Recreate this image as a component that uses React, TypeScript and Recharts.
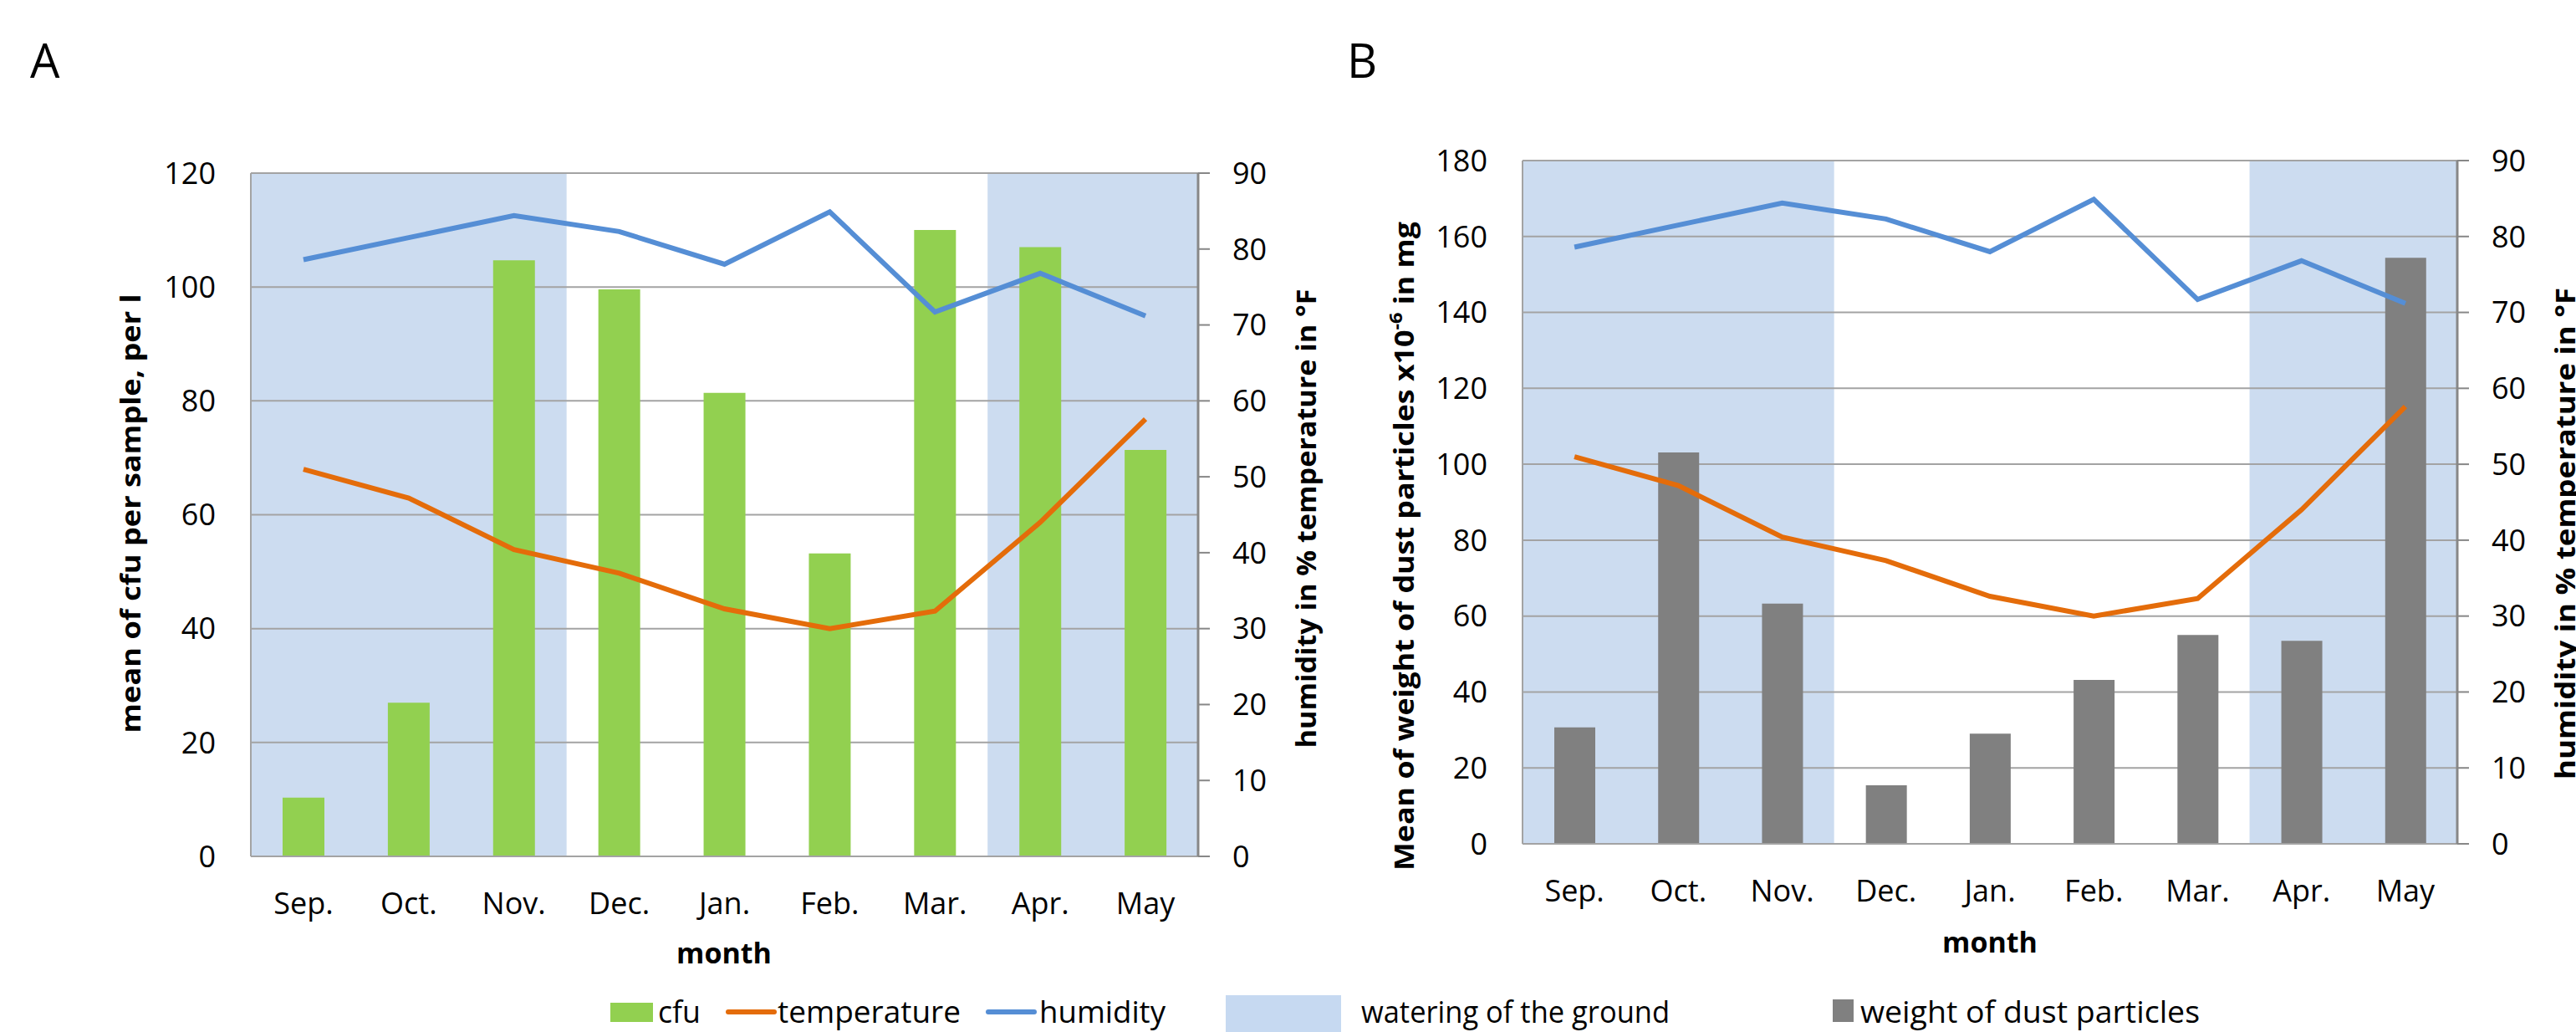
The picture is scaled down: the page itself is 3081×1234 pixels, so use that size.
import React from 'react';
import { ComposedChart, Bar, Line, XAxis, YAxis, CartesianGrid, ReferenceArea } from 'recharts';

// ---------- data ----------
const months = ['Sep.', 'Oct.', 'Nov.', 'Dec.', 'Jan.', 'Feb.', 'Mar.', 'Apr.', 'May'];
const cfu = [10.3, 27, 104.7, 99.6, 81.4, 53.2, 110, 107, 71.4];
const dustWeight = [30.7, 103.1, 63.3, 15.4, 29, 43.2, 55, 53.5, 154.4];
const temperature = [51, 47.2, 40.4, 37.3, 32.6, 30, 32.3, 44, 57.6];
const humidity = [78.6, 81.5, 84.4, 82.3, 78, 84.9, 71.7, 76.8, 71.2];

const ticksCfu = [0, 20, 40, 60, 80, 100, 120];
const ticksDust = [0, 20, 40, 60, 80, 100, 120, 140, 160, 180];
const ticksRight = [0, 10, 20, 30, 40, 50, 60, 70, 80, 90];

const wateringPeriods: [string, string][] = [['Sep.', 'Nov.'], ['Apr.', 'May']];

const titleA = 'A';
const titleB = 'B';
const xTitle = 'month';
const yTitleA = 'mean of cfu per  sample, per l';
const yTitleBMain = 'Mean of weight of dust particles x10';
const yTitleBSup = '-6';
const yTitleBEnd = ' in mg';
const yTitleRight = 'humidity in % temperature in °F';
const legendLabels = ['cfu', 'temperature', 'humidity', 'watering of the ground', 'weight of dust particles'];

// ---------- styles ----------
const FONT = "'Open Sans', sans-serif";
const GREEN = '#92D050';
const ORANGE = '#E46C0A';
const BLUE = '#558ED5';
const GRAY_BAR = '#808080';
const SHADE = '#CCDCF0';
const GRID = '#A3A3A3';
const AXIS_DARK = '#878787';

const dataA = months.map((m, i) => ({ month: m, value: cfu[i], temperature: temperature[i], humidity: humidity[i] }));
const dataB = months.map((m, i) => ({ month: m, value: dustWeight[i], temperature: temperature[i], humidity: humidity[i] }));

type PanelProps = {
  data: any[];
  width: number;
  height: number;
  margin: { top: number; right: number; bottom: number; left: number };
  leftMax: number;
  leftTicks: number[];
  barColor: string;
  barSize: number;
};

const tickStyle = { fontFamily: FONT, fontSize: 36, fill: '#000' };

function Panel({ data, width, height, margin, leftMax, leftTicks, barColor, barSize }: PanelProps) {
  return (
    <ComposedChart width={width} height={height} data={data} margin={margin}>
      {wateringPeriods.map(([a, b], i) => (
        <ReferenceArea
          key={i}
          x1={a}
          x2={b}
          yAxisId="left"
          fill={SHADE}
          fillOpacity={1}
          stroke="none"
          ifOverflow="visible"
          zIndex={-200}
        />
      ))}
      <CartesianGrid yAxisId="left" vertical={false} stroke={GRID} strokeWidth={2} />
      <XAxis
        dataKey="month"
        interval={0}
        tickLine={false}
        tickSize={0}
        tickMargin={43}
        height={60}
        axisLine={{ stroke: GRID, strokeWidth: 2 }}
        tick={tickStyle}
      />
      <YAxis
        yAxisId="left"
        orientation="left"
        domain={[0, leftMax]}
        ticks={leftTicks}
        interval={0}
        width={100}
        tickLine={false}
        tickSize={0}
        tickMargin={42}
        axisLine={{ stroke: GRID, strokeWidth: 2 }}
        tick={tickStyle}
      />
      <YAxis
        yAxisId="right"
        orientation="right"
        domain={[0, 90]}
        ticks={ticksRight}
        interval={0}
        width={100}
        tickSize={14}
        tickMargin={27}
        tickLine={{ stroke: AXIS_DARK, strokeWidth: 2 }}
        axisLine={{ stroke: AXIS_DARK, strokeWidth: 3 }}
        tick={tickStyle}
      />
      <Bar yAxisId="left" dataKey="value" fill={barColor} barSize={barSize} isAnimationActive={false} />
      <Line yAxisId="right" type="linear" dataKey="temperature" stroke={ORANGE} strokeWidth={6} dot={false} isAnimationActive={false} />
      <Line yAxisId="right" type="linear" dataKey="humidity" stroke={BLUE} strokeWidth={6} dot={false} isAnimationActive={false} />
    </ComposedChart>
  );
}

function Overlay() {
  const t = { fontFamily: FONT, fill: '#000' } as const;
  return (
    <svg width={3081} height={1234} style={{ position: 'absolute', left: 0, top: 0, pointerEvents: 'none' }}>
      <text x={36} y={93} fontSize={56} {...t}>{titleA}</text>
      <text x={1611} y={93} fontSize={56} {...t}>{titleB}</text>

      {/* month titles */}
      <text x={866} y={1152} fontSize={34} fontWeight="bold" textAnchor="middle" {...t}>{xTitle}</text>
      <text x={2380} y={1139} fontSize={34} fontWeight="bold" textAnchor="middle" {...t}>{xTitle}</text>

      {/* y titles */}
      <text transform="translate(168,614) rotate(-90)" fontSize={32} fontWeight="bold" textAnchor="middle"
        textLength={525} lengthAdjust="spacingAndGlyphs" {...t}>{yTitleA}</text>
      <text transform="translate(1574,620) rotate(-90)" fontSize={32} fontWeight="bold" textAnchor="middle"
        textLength={549} lengthAdjust="spacingAndGlyphs" {...t}>{yTitleRight}</text>
      <text transform="translate(1691,653) rotate(-90)" fontSize={32} fontWeight="bold" textAnchor="middle"
        textLength={776} lengthAdjust="spacingAndGlyphs" {...t}>
        {yTitleBMain}
        <tspan baselineShift="super" fontSize={21}>{yTitleBSup}</tspan>
        {yTitleBEnd}
      </text>
      <text transform="translate(3080,638) rotate(-90)" fontSize={32} fontWeight="bold" textAnchor="middle"
        textLength={588} lengthAdjust="spacingAndGlyphs" {...t}>{yTitleRight}</text>

      {/* legend */}
      <rect x={730} y={1199} width={51} height={23} fill={GREEN} />
      <text x={787} y={1223} fontSize={36} textLength={51} lengthAdjust="spacingAndGlyphs" {...t}>{legendLabels[0]}</text>
      <line x1={871} x2={926} y1={1210} y2={1210} stroke={ORANGE} strokeWidth={6} strokeLinecap="round" />
      <text x={930} y={1223} fontSize={36} textLength={219} lengthAdjust="spacingAndGlyphs" {...t}>{legendLabels[1]}</text>
      <line x1={1182} x2={1237} y1={1210} y2={1210} stroke={BLUE} strokeWidth={6} strokeLinecap="round" />
      <text x={1243} y={1223} fontSize={36} textLength={151} lengthAdjust="spacingAndGlyphs" {...t}>{legendLabels[2]}</text>
      <rect x={1466} y={1190} width={138} height={44} fill="#C6D9F1" />
      <text x={1628} y={1223} fontSize={36} textLength={369} lengthAdjust="spacingAndGlyphs" {...t}>{legendLabels[3]}</text>
      <rect x={2192} y={1195} width={25} height={27} fill={GRAY_BAR} />
      <text x={2225} y={1223} fontSize={36} textLength={406} lengthAdjust="spacingAndGlyphs" {...t}>{legendLabels[4]}</text>
    </svg>
  );
}

export default function App() {
  return (
    <div style={{ position: 'absolute', left: 0, top: 0, width: 3081, height: 1234, overflow: 'hidden', background: '#fff' }}>
      <div style={{ position: 'absolute', left: 0, top: 0 }}>
        <Panel
          data={dataA}
          width={1540}
          height={1234}
          margin={{ top: 207, right: 7, bottom: 150, left: 200 }}
          leftMax={120}
          leftTicks={ticksCfu}
          barColor={GREEN}
          barSize={50}
        />
      </div>
      <div style={{ position: 'absolute', left: 1540, top: 0 }}>
        <Panel
          data={dataB}
          width={1541}
          height={1234}
          margin={{ top: 192, right: 42, bottom: 165, left: 181 }}
          leftMax={180}
          leftTicks={ticksDust}
          barColor={GRAY_BAR}
          barSize={49}
        />
      </div>
      <Overlay />
    </div>
  );
}
